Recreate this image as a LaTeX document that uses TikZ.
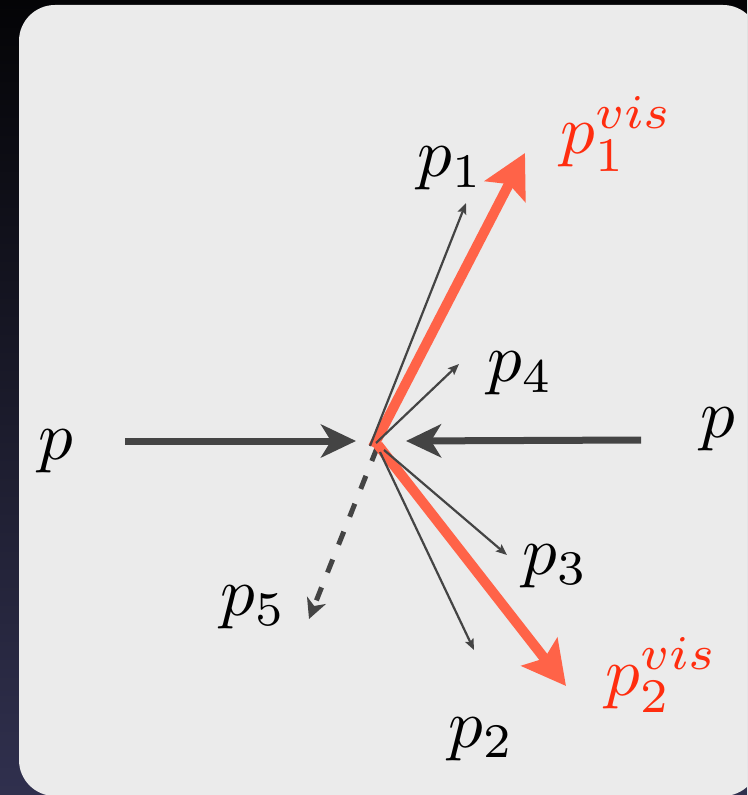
\documentclass[tikz,border=0pt]{standalone}
\usetikzlibrary{arrows.meta}
\definecolor{boxgray}{RGB}{235,235,235}
\definecolor{arrgray}{RGB}{68,68,68}
\definecolor{visred}{RGB}{255,99,72}
\definecolor{txtred}{RGB}{255,45,15}
\definecolor{bgtop}{RGB}{4,4,6}
\definecolor{bgmid}{RGB}{12,12,38}
\definecolor{bgbot}{RGB}{48,48,78}
\newcommand{\biglabel}[1]{\scalebox{3.45}{$#1$}}
\begin{document}
\begin{tikzpicture}[x=0.5pt,y=-0.5pt,
  lbl/.style={inner sep=0pt,anchor=base west,font=\fontsize{10}{12}\selectfont},
  beam/.style={draw=arrgray,line width=3.5pt,-{Stealth[length=17.5pt,width=16.5pt,inset=5pt]}},
  visarrow/.style={draw=visred,line width=5pt,-{Stealth[length=21.5pt,width=22.5pt,inset=4pt]}},
  thinarrow/.style={draw=arrgray,line width=1.1pt,-{Stealth[length=5.5pt,width=4.5pt,inset=1pt]}},
  dasharrow/.style={draw=arrgray,line width=2.5pt,dash pattern=on 7pt off 8pt,-{Stealth[length=10pt,width=10pt,inset=3pt]}}]
\useasboundingbox (0,0) rectangle (747,795);
\clip (0,0) rectangle (747,795);
\shade[top color=bgtop,middle color=bgmid,bottom color=bgbot] (0,0) rectangle (747,795);
\fill[boxgray,rounded corners=18pt] (19,5) rectangle (759,796);
% coordinates
\coordinate (lstart) at (125,441);
\coordinate (lend) at (356,441);
\coordinate (rstart) at (641,440);
\coordinate (rend) at (406,441);
\coordinate (v1s) at (373,447);
\coordinate (v1e) at (525,153);
\coordinate (v2s) at (378,445);
\coordinate (v2e) at (566,686);
\coordinate (c1) at (370,446);
\coordinate (e1) at (466,203);
\coordinate (c4) at (376,443);
\coordinate (e4) at (459,364);
\coordinate (c3) at (384,450);
\coordinate (e3) at (507,555);
\coordinate (c2) at (380,452);
\coordinate (e2) at (474,650);
\coordinate (c5) at (377,448);
\coordinate (e5) at (309,619);
% connectors
\draw[dasharrow] (c5) -- (e5);
\draw[visarrow] (v1s) -- (v1e);
\draw[visarrow] (v2s) -- (v2e);
\draw[thinarrow] (c1) -- (e1);
\draw[thinarrow] (c4) -- (e4);
\draw[thinarrow] (c3) -- (e3);
\draw[thinarrow] (c2) -- (e2);
\draw[beam] (lstart) -- (lend);
\draw[beam] (rstart) -- (rend);
% labels
\node[lbl] (pl) at (38,459) {\biglabel{p}};
\node[lbl] (pr) at (700,437) {\biglabel{p}};
\node[lbl] (p1) at (417,177) {\biglabel{p_1}};
\node[lbl,text=txtred] (p1v) at (560,154) {\biglabel{p_1^{vis}}};
\node[lbl] (p4) at (487,382) {\biglabel{p_4}};
\node[lbl] (p3) at (522,574) {\biglabel{p_3}};
\node[lbl] (p5) at (220,615) {\biglabel{p_5}};
\node[lbl] (p2) at (448,747) {\biglabel{p_2}};
\node[lbl,text=txtred] (p2v) at (605,695) {\biglabel{p_2^{vis}}};
\end{tikzpicture}
\end{document}
